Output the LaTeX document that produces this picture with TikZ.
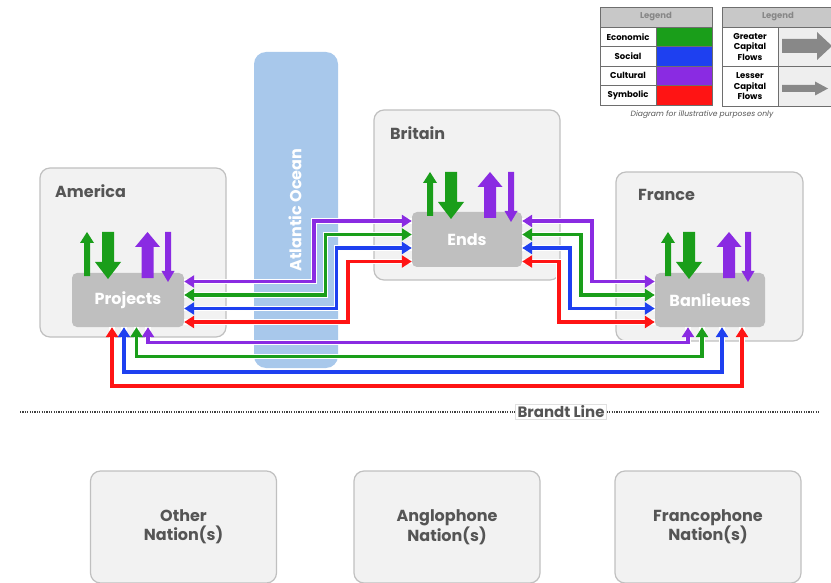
\documentclass[tikz,border=0pt]{standalone}
\usepackage{fontspec}
\setmainfont{Poppins}
\usetikzlibrary{arrows.meta,calc}
\definecolor{cgreen}{RGB}{26,158,26}
\definecolor{cblue}{RGB}{30,64,240}
\definecolor{cpurple}{RGB}{138,43,226}
\definecolor{cred}{RGB}{255,20,20}
\definecolor{boxfill}{RGB}{242,242,242}
\definecolor{boxdraw}{RGB}{192,192,192}
\definecolor{hubfill}{RGB}{191,191,191}
\definecolor{ocean}{RGB}{168,200,235}
\definecolor{textgray}{RGB}{85,85,85}
\definecolor{lgdraw}{RGB}{110,110,110}
\definecolor{lghead}{RGB}{200,200,200}
\definecolor{lgheadtext}{RGB}{135,135,135}
\definecolor{arrgray}{RGB}{136,136,136}
\definecolor{cellfill}{RGB}{238,238,238}
\newcommand\vup[7]{\fill[#7] ({#1-#4/2},#3) -- ({#1-#4/2},{#2+#6}) -- ({#1-#5/2},{#2+#6}) -- (#1,#2) -- ({#1+#5/2},{#2+#6}) -- ({#1+#4/2},{#2+#6}) -- ({#1+#4/2},#3) -- cycle;}
\newcommand\vdown[7]{\fill[#7] ({#1-#4/2},#2) -- ({#1-#4/2},{#3-#6}) -- ({#1-#5/2},{#3-#6}) -- (#1,#3) -- ({#1+#5/2},{#3-#6}) -- ({#1+#4/2},{#3-#6}) -- ({#1+#4/2},#2) -- cycle;}
\newcommand\hright[7]{\fill[#7] (#1,{#3-#4/2}) -- ({#2-#6},{#3-#4/2}) -- ({#2-#6},{#3-#5/2}) -- (#2,#3) -- ({#2-#6},{#3+#5/2}) -- ({#2-#6},{#3+#4/2}) -- (#1,{#3+#4/2}) -- cycle;}
\begin{document}
\begin{tikzpicture}[x=1pt,y=-1pt,
  region/.style={draw=boxdraw, fill=boxfill, rounded corners=10pt, line width=1.2pt, inner sep=0pt},
  bottombox/.style={region, align=center, text=textgray, font=\bfseries\fontsize{16}{19}\selectfont, minimum width=186pt, minimum height=112pt},
  hub/.style={fill=hubfill, rounded corners=5pt, text=white, font=\bfseries\fontsize{16}{19}\selectfont, inner sep=0pt},
  ttl/.style={text=textgray, font=\bfseries\fontsize{16}{19}\selectfont, anchor=west, inner sep=0pt},
  conn/.style={line width=3.2pt, arrows={Triangle[length=10pt,width=12pt]-Triangle[length=10pt,width=12pt]}, preaction={draw=white, line width=5.2pt, arrows=-}},
  lgcell/.style={draw=lgdraw, line width=0.8pt, minimum width=56pt, inner sep=0pt, font=\bfseries\fontsize{8.5}{10.5}\selectfont, align=center},
  lghd/.style={draw=lgdraw, fill=lghead, line width=0.8pt, inner sep=0pt, text=lgheadtext, font=\bfseries\fontsize{8.5}{10}\selectfont},
  dots/.style={draw=black!75, line width=2pt, dash pattern=on 1.1pt off 1.3pt}
]
\useasboundingbox (0,0) rectangle (831,583);
% regions
\node[region, minimum width=186pt, minimum height=169pt] (am) at (133,252.5) {};
\node[ttl] (amt) at (55,191) {America};
\node[region, minimum width=186pt, minimum height=170pt] (br) at (467,195) {};
\node[ttl] (brt) at (390,133) {Britain};
\node[region, minimum width=187pt, minimum height=169pt] (fr) at (709.5,256.5) {};
\node[ttl] (frt) at (638,195) {France};
% ocean
\node[fill=ocean, rounded corners=12pt, minimum width=84pt, minimum height=316pt, inner sep=0pt] (ocean) at (296,210) {};
\node[rotate=90, text=white, font=\bfseries\fontsize{16}{19}\selectfont, inner sep=0pt] (oceant) at (295,210) {Atlantic Ocean};
% hubs
\node[hub, minimum width=112pt, minimum height=54pt] (proj) at (128,300) {Projects};
\node[hub, minimum width=110pt, minimum height=55pt] (ends) at (467,239.5) {Ends};
\node[hub, minimum width=110pt, minimum height=54pt] (ban) at (710,300) {Banlieues};
% vertical arrows America
\vup{87}{232}{276}{6}{14}{11}{cgreen}
\vdown{108}{232}{279}{12}{26}{17}{cgreen}
\vup{147.5}{232}{278}{12}{25}{15}{cpurple}
\vdown{168}{232}{282}{6}{13}{11}{cpurple}
% Britain
\vup{430}{172}{216}{6}{14}{11}{cgreen}
\vdown{451}{172}{219}{12}{26}{17}{cgreen}
\vup{490}{172}{218}{12}{25}{15}{cpurple}
\vdown{511}{172}{222}{6}{13}{11}{cpurple}
% France
\vup{668}{232}{276}{6}{14}{11}{cgreen}
\vdown{689}{232}{279}{12}{26}{17}{cgreen}
\vup{729}{232}{278}{12}{25}{15}{cpurple}
\vdown{748}{232}{282}{6}{13}{11}{cpurple}
% connectors America - Britain
\coordinate (ab1) at (314,0);
\coordinate (ab2) at (325.5,0);
\coordinate (ab3) at (336.5,0);
\coordinate (ab4) at (348,0);
\draw[conn,cpurple] ($(proj.east)+(0,-18.5)$) coordinate (p1) -- (p1 -| ab1) |- ($(ends.west)+(0,-18.5)$);
\draw[conn,cgreen] ($(proj.east)+(0,-5)$) coordinate (p2) -- (p2 -| ab2) |- ($(ends.west)+(0,-5)$);
\draw[conn,cblue] ($(proj.east)+(0,8.5)$) coordinate (p3) -- (p3 -| ab3) |- ($(ends.west)+(0,8.5)$);
\draw[conn,cred] ($(proj.east)+(0,22)$) coordinate (p4) -- (p4 -| ab4) |- ($(ends.west)+(0,22)$);
% connectors Britain - France
\coordinate (bf1) at (592,0);
\coordinate (bf2) at (581,0);
\coordinate (bf3) at (570,0);
\coordinate (bf4) at (559,0);
\draw[conn,cpurple] ($(ends.east)+(0,-18.5)$) coordinate (q1) -- (q1 -| bf1) |- ($(ban.west)+(0,-18.5)$);
\draw[conn,cgreen] ($(ends.east)+(0,-5)$) coordinate (q2) -- (q2 -| bf2) |- ($(ban.west)+(0,-5)$);
\draw[conn,cblue] ($(ends.east)+(0,8.5)$) coordinate (q3) -- (q3 -| bf3) |- ($(ban.west)+(0,8.5)$);
\draw[conn,cred] ($(ends.east)+(0,22)$) coordinate (q4) -- (q4 -| bf4) |- ($(ban.west)+(0,22)$);
% connectors America - France
\coordinate (lp) at (0,342.5);
\coordinate (lg) at (0,356.5);
\coordinate (lb) at (0,372);
\coordinate (lr) at (0,386);
\draw[conn,cpurple] ($(proj.south)+(20,0)$) coordinate (r1) -- (r1 |- lp) -| ($(ban.south)+(-22,0)$);
\draw[conn,cgreen] ($(proj.south)+(8.5,0)$) coordinate (r2) -- (r2 |- lg) -| ($(ban.south)+(-8,0)$);
\draw[conn,cblue] ($(proj.south)+(-4,0)$) coordinate (r3) -- (r3 |- lb) -| ($(ban.south)+(12,0)$);
\draw[conn,cred] ($(proj.south)+(-16,0)$) coordinate (r4) -- (r4 |- lr) -| ($(ban.south)+(32,0)$);
% Brandt line
\coordinate (bl1) at (20,412);
\coordinate (bl2) at (820,412);
\node[fill=white, draw=black!12, line width=0.8pt, text=textgray, font=\bfseries\fontsize{15}{18}\selectfont, inner xsep=2pt, inner ysep=1.5pt] (bt) at (561,412) {Brandt Line};
\draw[dots] (bl1) -- (bt.west);
\draw[dots] (bt.east) -- (bl2);
% bottom boxes
\node[bottombox] (oth) at (183.5,527) {Other\\Nation(s)};
\node[bottombox] (ang) at (447,527) {Anglophone\\Nation(s)};
\node[bottombox] (fra) at (708,527) {Francophone\\Nation(s)};
% legend 1
\node[lghd, minimum width=112pt, minimum height=20pt] (l1h) at (656,17) {Legend};
\node[lgcell, fill=white, minimum height=19.5pt] (le) at (628,36.75) {Economic};
\node[lgcell, fill=cgreen, minimum height=19.5pt] (lec) at (684,36.75) {};
\node[lgcell, fill=white, minimum height=19.5pt] (ls) at (628,56.25) {Social};
\node[lgcell, fill=cblue, minimum height=19.5pt] (lsc) at (684,56.25) {};
\node[lgcell, fill=white, minimum height=19.5pt] (lc) at (628,75.75) {Cultural};
\node[lgcell, fill=cpurple, minimum height=19.5pt] (lcc) at (684,75.75) {};
\node[lgcell, fill=white, minimum height=19.5pt] (lsy) at (628,95.25) {Symbolic};
\node[lgcell, fill=cred, minimum height=19.5pt] (lsyc) at (684,95.25) {};
% legend 2
\node[lghd, minimum width=112pt, minimum height=20pt] (l2h) at (778,17) {Legend};
\node[lgcell, fill=white, minimum height=39.5pt] (lgr) at (750,46.75) {Greater\\Capital\\Flows};
\node[lgcell, fill=cellfill, minimum height=39.5pt] (lgra) at (806,46.75) {};
\node[lgcell, fill=white, minimum height=39.5pt] (lle) at (750,86.25) {Lesser\\Capital\\Flows};
\node[lgcell, fill=cellfill, minimum height=39.5pt] (llea) at (806,86.25) {};
\hright{782}{832}{46}{14}{28}{15}{arrgray}
\hright{782}{828}{88.5}{7}{14}{13}{arrgray}
\node[text=textgray, font=\itshape\fontsize{7.6}{9}\selectfont, inner sep=0pt] (cap) at (702,115) {Diagram for illustrative purposes only};
\end{tikzpicture}
\end{document}
